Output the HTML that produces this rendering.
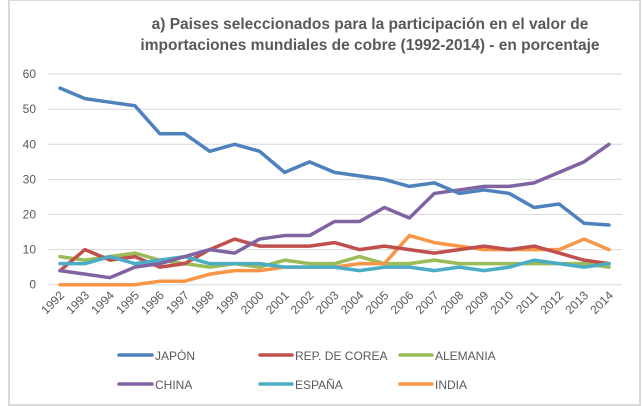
<!DOCTYPE html>
<html><head><meta charset="utf-8"><style>
body{margin:0;background:#fff;}
svg{display:block;font-family:"Liberation Sans",sans-serif;}
</style></head><body>
<svg id="c" width="643" height="406">
<rect x="9" y="0" width="631" height="405" fill="#fff" stroke="#d9d9d9" stroke-width="2"/>
<text x="370" y="29" text-anchor="middle" font-size="15.5" font-weight="bold" fill="#595959">a) Paises seleccionados para la participación en el valor de</text>
<text x="370" y="50" text-anchor="middle" font-size="15.5" font-weight="bold" fill="#595959">importaciones mundiales de cobre (1992-2014) - en porcentaje</text>
<g id="grid"></g><g id="series"></g><g id="xl"></g>
<g font-size="12" fill="#595959">
<line x1="119" y1="355" x2="152" y2="355" stroke="#4f81bd" stroke-width="3.5" stroke-linecap="round"/><text x="155" y="360">JAPÓN</text>
<line x1="260" y1="355" x2="292" y2="355" stroke="#c0504d" stroke-width="3.5" stroke-linecap="round"/><text x="295" y="360">REP. DE COREA</text>
<line x1="400" y1="355" x2="432" y2="355" stroke="#9bbb59" stroke-width="3.5" stroke-linecap="round"/><text x="435" y="360">ALEMANIA</text>
<line x1="119" y1="384" x2="152" y2="384" stroke="#8064a2" stroke-width="3.5" stroke-linecap="round"/><text x="155" y="389">CHINA</text>
<line x1="260" y1="384" x2="292" y2="384" stroke="#4bacc6" stroke-width="3.5" stroke-linecap="round"/><text x="295" y="389">ESPAÑA</text>
<line x1="400" y1="384" x2="432" y2="384" stroke="#f79646" stroke-width="3.5" stroke-linecap="round"/><text x="435" y="389">INDIA</text>
</g>
</svg>
<script>
const years=[1992,1993,1994,1995,1996,1997,1998,1999,2000,2001,2002,2003,2004,2005,2006,2007,2008,2009,2010,2011,2012,2013,2014];
const yTicks=[0,10,20,30,40,50,60];
const japon=[56,53,52,51,43,43,38,40,38,32,35,32,31,30,28,29,26,27,26,22,23,17.5,17];
const corea=[4,10,7,8,5,6,10,13,11,11,11,12,10,11,10,9,10,11,10,11,9,7,6];
const alemania=[8,7,8,9,7,6,5,6,5,7,6,6,8,6,6,7,6,6,6,6,6,6,5];
const china=[4,3,2,5,6,8,10,9,13,14,14,18,18,22,19,26,27,28,28,29,32,35,40];
const espana=[6,6,8,6,7,8,6,6,6,5,5,5,4,5,5,4,5,4,5,7,6,5,6];
const india=[0,0,0,0,1,1,3,4,4,5,5,5,6,6,14,12,11,10,10,10,10,13,10];
const NS="http://www.w3.org/2000/svg";
const x=i=>60+i*(549/22);
const y=v=>284.7-v*(210.6/60);
function mk(t,a,p){const e=document.createElementNS(NS,t);for(const k in a)e.setAttribute(k,a[k]);p.appendChild(e);return e;}
const g=document.getElementById('grid');
yTicks.forEach(v=>{
 const l=mk('line',{x1:48,x2:622,y1:y(v),y2:y(v),stroke:'#d9d9d9','stroke-width':1},g);
 
 
 const t=mk('text',{x:36,y:y(v)+4,'text-anchor':'end','font-size':12,fill:'#595959'},g);
 t.textContent=v;
 
 
});
const xl=document.getElementById('xl');
years.forEach((yr,i)=>{
 const t=mk('text',{x:x(i)+5,y:296,'text-anchor':'end','font-size':12,fill:'#595959',transform:`rotate(-45 ${x(i)+5} 296)`},xl);
 t.textContent=yr;
 
 
});
const s=document.getElementById('series');
[[alemania,'#9bbb59','alemania'],[india,'#f79646','india'],[corea,'#c0504d','corea'],[espana,'#4bacc6','espana'],[china,'#8064a2','china'],[japon,'#4f81bd','japon']].forEach(([d,c,n])=>{
 const p=mk('polyline',{points:d.map((v,i)=>x(i)+','+y(v)).join(' '),fill:'none',stroke:c,'stroke-width':3.5,'stroke-linejoin':'round','stroke-linecap':'round'},s);
 
 
});
</script>
</body></html>
